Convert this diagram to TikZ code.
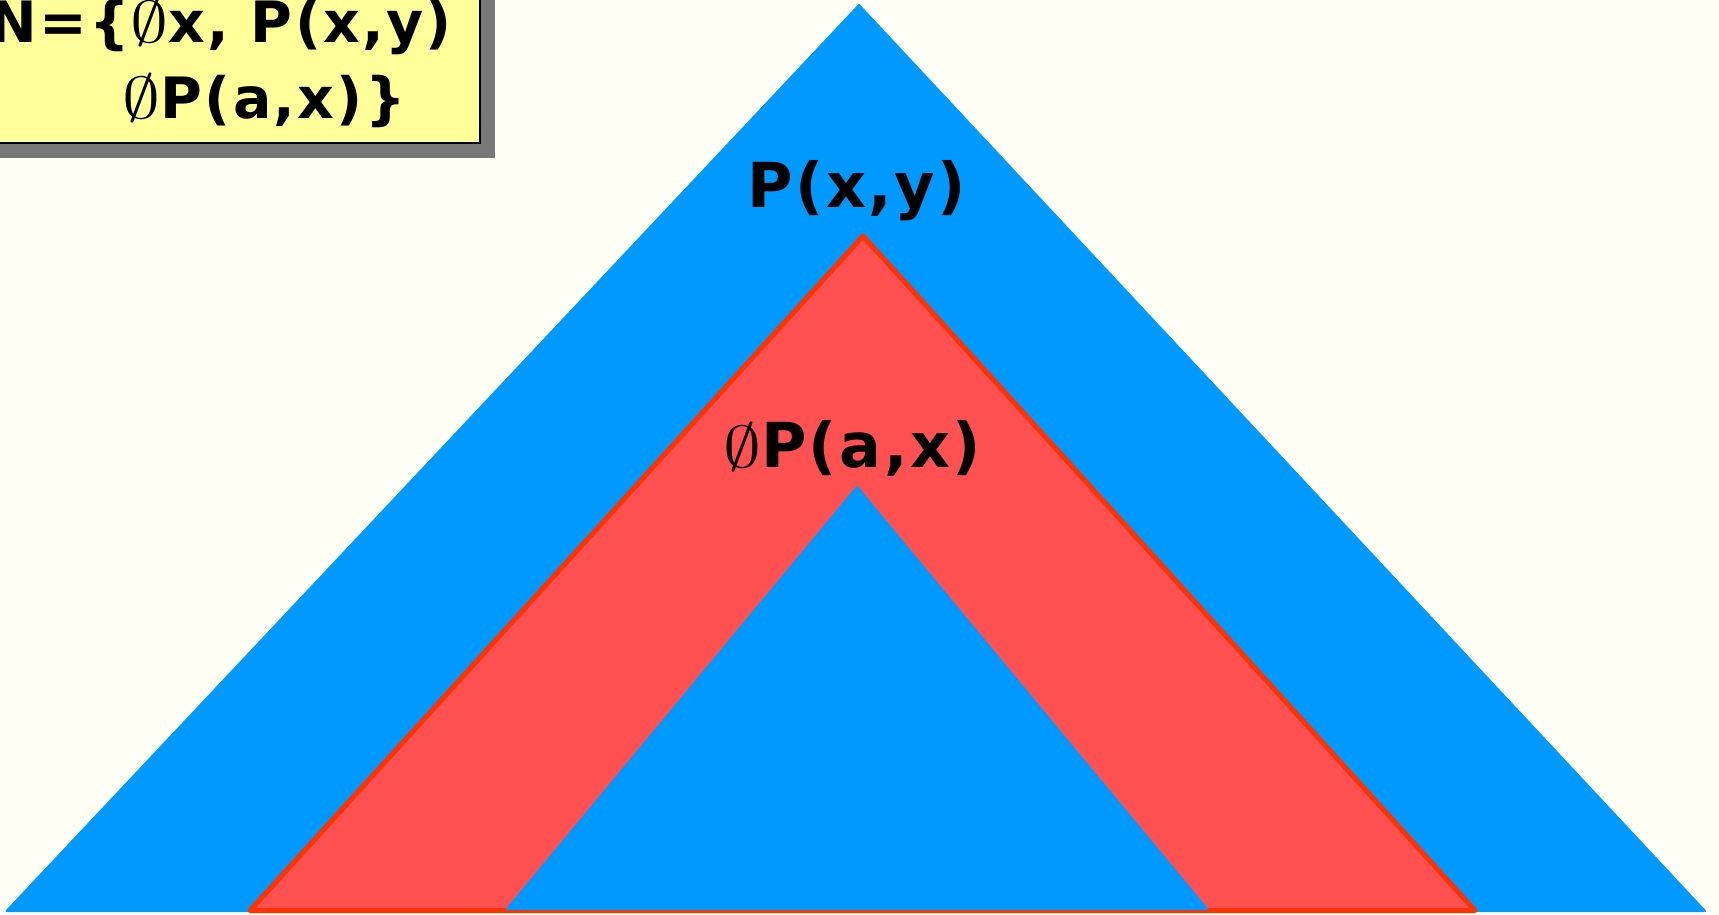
\documentclass[tikz,border=0pt]{standalone}
\usepackage{fontspec}
\setmainfont{DejaVu Sans}[LetterSpace=4]
\usetikzlibrary{positioning}
\definecolor{bgcream}{RGB}{255,255,245}
\definecolor{skyblue}{RGB}{0,153,255}
\definecolor{salmonred}{RGB}{255,81,81}
\definecolor{edgered}{RGB}{255,51,0}
\definecolor{notepaper}{RGB}{255,255,153}
\definecolor{shadowgray}{RGB}{120,120,120}
\newcommand{\negsym}{{\fontsize{10}{12}\selectfont\scalebox{7.6}[5.9]{$\emptyset$}}}
\tikzset{
  bluetri/.style = {fill=skyblue, draw=skyblue, line width=2pt, line join=round},
  redtri/.style  = {fill=salmonred, draw=edgered, line width=5pt, line join=round},
  bigtext/.style = {font=\fontsize{62}{72}\selectfont\bfseries, inner sep=0pt},
  boxtext/.style = {font=\fontsize{57}{68}\selectfont\bfseries, inner sep=0pt},
  notebox/.style = {fill=notepaper, draw=black, line width=1.5pt},
}
\begin{document}
\begin{tikzpicture}[x=1pt, y=-1pt]
  \useasboundingbox (0,0) rectangle (1719,915);
  \clip (0,0) rectangle (1719,915);
  \fill[bgcream] (0,0) rectangle (1719,915);

  % nested triangles
  \filldraw[bluetri] (6.5,911) -- (859,5) -- (1705,911) -- cycle;
  \filldraw[redtri] (250,910.5) -- (863,236) -- (1475,910.5) -- cycle;
  \filldraw[bluetri] (507,909) -- (857,487) -- (1207,909) -- cycle;

  \node[bigtext, anchor=base] (outer) at (857,207) {P(x,y)};
  \node[bigtext, anchor=base] (inner) at (852,467) {\negsym P(a,x)};

  % note box in the corner
  \fill[shadowgray] (-5,-5) rectangle (495,158);
  \filldraw[notebox] (-20,-20) rectangle (480,143);
  \node[boxtext, anchor=base east] (setline) at (452,43) {N=\{\negsym x, P(x,y)};
  \node[boxtext, anchor=base east] (setend) at (406,119) {\negsym P(a,x)\}};
\end{tikzpicture}
\end{document}
